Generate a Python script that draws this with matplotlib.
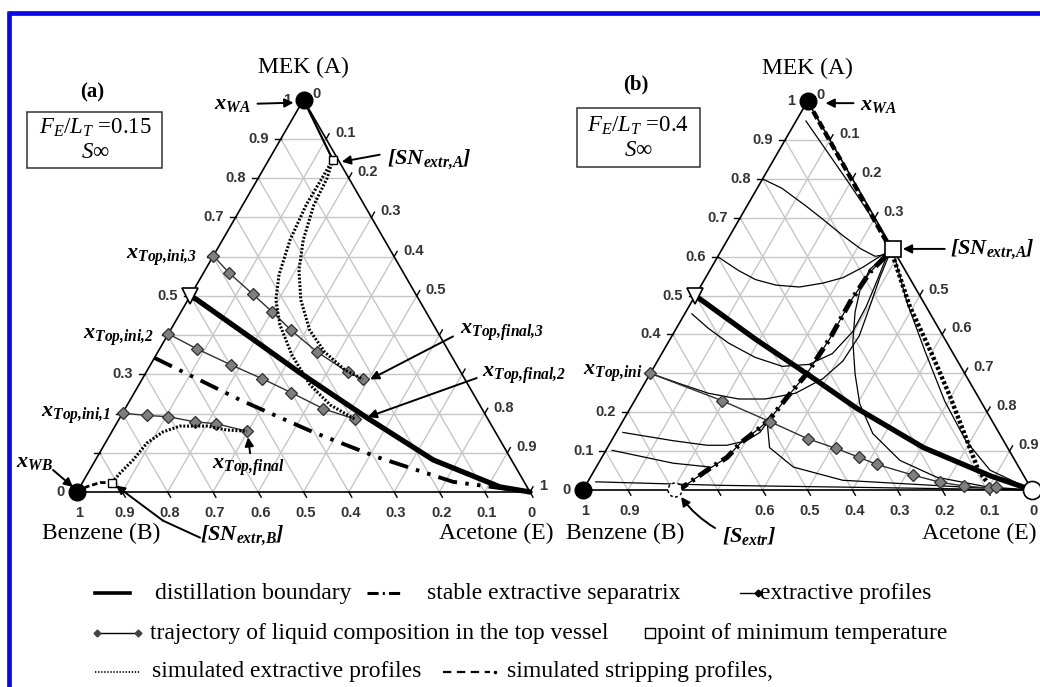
import numpy as np
import matplotlib
matplotlib.use('Agg')
import matplotlib.pyplot as plt
from matplotlib.patches import Rectangle, Circle

plt.rcParams['font.family'] = ['Liberation Serif', 'DejaVu Serif']
plt.rcParams['mathtext.fontset'] = 'custom'
plt.rcParams['mathtext.rm'] = 'Liberation Serif'
plt.rcParams['mathtext.it'] = 'Liberation Serif:italic'
plt.rcParams['mathtext.bf'] = 'Liberation Serif:italic:bold'
plt.rcParams['lines.scale_dashes'] = False

FIG_W, FIG_H = 1040, 687
S3 = np.sqrt(3) / 2

# ---- panel (a): compositions as (MEK, acetone) mole fractions, benzene = rest ----
A_BOUND_MEK = [0.50, 0.49, 0.395, 0.304, 0.189, 0.082, 0.013, 0.0]
A_BOUND_ACE = [0.00, 0.02, 0.184, 0.340, 0.546, 0.745, 0.927, 1.0]
A_SEP_MEK = [0.342, 0.235, 0.153, 0.089, 0.026, 0.0]
A_SEP_ACE = [0.0, 0.242, 0.444, 0.618, 0.817, 1.0]
A_TRAJ3_MEK = [0.602, 0.558, 0.505, 0.460, 0.412, 0.358, 0.305, 0.287]
A_TRAJ3_ACE = [0.0, 0.057, 0.135, 0.200, 0.267, 0.350, 0.446, 0.488]
A_TRAJ2_MEK = [0.403, 0.365, 0.324, 0.289, 0.253, 0.212, 0.186]
A_TRAJ2_ACE = [0.0, 0.082, 0.178, 0.264, 0.347, 0.438, 0.520]
A_TRAJ1_MEK = [0.201, 0.195, 0.192, 0.179, 0.174, 0.155]
A_TRAJ1_ACE = [0.0, 0.057, 0.105, 0.170, 0.220, 0.298]
A_SIM2_MEK = [0.847, 0.801, 0.732, 0.643, 0.554, 0.490, 0.426, 0.349, 0.273, 0.222, 0.186]
A_SIM2_ACE = [0.141, 0.141, 0.140, 0.149, 0.169, 0.194, 0.235, 0.300, 0.378, 0.448, 0.520]
A_SIM3_MEK = [0.847, 0.801, 0.732, 0.643, 0.566, 0.490, 0.413, 0.357, 0.311, 0.287]
A_SIM3_ACE = [0.141, 0.152, 0.157, 0.178, 0.207, 0.249, 0.307, 0.368, 0.436, 0.488]
A_SIM1_MEK = [0.024, 0.048, 0.082, 0.125, 0.153, 0.168, 0.168, 0.158, 0.155]
A_SIM1_ACE = [0.065, 0.071, 0.083, 0.092, 0.113, 0.143, 0.203, 0.252, 0.298]
A_STRIPB_MEK = [0.0, 0.0135, 0.024, 0.024]
A_STRIPB_ACE = [0.0, 0.015, 0.039, 0.065]
A_STRIPA_MEK = [1.0, 0.847]
A_STRIPA_ACE = [0.0, 0.141]
A_SN_A = (0.847, 0.141)
A_SN_B = (0.024, 0.065)

# ---- panel (b) ----
B_BOUND_MEK = [0.5, 0.388, 0.295, 0.211, 0.109, 0.036, 0.0]
B_BOUND_ACE = [0.0, 0.190, 0.356, 0.503, 0.704, 0.890, 1.0]
B_SEP_MEK = [0.0, 0.008, 0.056, 0.084, 0.120, 0.160, 0.183, 0.242, 0.300, 0.389, 0.483, 0.560, 0.620]
B_SEP_ACE = [0.205, 0.219, 0.255, 0.279, 0.290, 0.314, 0.325, 0.336, 0.349, 0.355, 0.353, 0.359, 0.380]
B_SIM_MEK = [0.62, 0.601, 0.473, 0.351, 0.242, 0.140, 0.051, 0.020]
B_SIM_ACE = [0.38, 0.390, 0.491, 0.601, 0.696, 0.781, 0.855, 0.890]
B_STRIP_MEK = [1.0, 0.62]
B_STRIP_ACE = [0.0, 0.375]
B_TRAJ_MEK = [0.300, 0.230, 0.176, 0.132, 0.107, 0.084, 0.066, 0.038, 0.020, 0.010, 0.005, 0.008]
B_TRAJ_ACE = [0.000, 0.194, 0.328, 0.434, 0.510, 0.573, 0.621, 0.717, 0.785, 0.844, 0.902, 0.916]
B_PROFILES = [
    ([0.80, 0.776, 0.730, 0.695, 0.654, 0.621, 0.601, 0.606, 0.62],
     [0.0, 0.055, 0.132, 0.188, 0.252, 0.307, 0.350, 0.374, 0.38]),
    ([0.949, 0.789, 0.62], [0.022, 0.198, 0.38]),
    ([0.60, 0.564, 0.541, 0.527, 0.522, 0.532, 0.546, 0.573, 0.601, 0.62],
     [0.0, 0.065, 0.114, 0.166, 0.221, 0.268, 0.306, 0.337, 0.361, 0.38]),
    ([0.453, 0.416, 0.378, 0.341, 0.318, 0.323, 0.351, 0.407, 0.471, 0.537, 0.601, 0.62],
     [0.016, 0.071, 0.135, 0.213, 0.285, 0.342, 0.380, 0.397, 0.395, 0.386, 0.376, 0.38]),
    ([0.30, 0.272, 0.249, 0.234, 0.234, 0.249, 0.286, 0.332, 0.397, 0.471, 0.546, 0.601, 0.62],
     [0.0, 0.083, 0.154, 0.230, 0.289, 0.349, 0.391, 0.413, 0.417, 0.403, 0.388, 0.380, 0.38]),
    ([0.148, 0.127, 0.115, 0.115, 0.127, 0.148, 0.165], [0.015, 0.136, 0.219, 0.263, 0.301, 0.320, 0.322]),
    ([0.102, 0.069, 0.059], [0.014, 0.166, 0.254]),
    ([0.021, 0.012, 0.007, 0.0], [0.018, 0.30, 0.60, 1.0]),
    ([0.62, 0.567, 0.517, 0.458, 0.382, 0.298, 0.221, 0.145, 0.076, 0.033, 0.008, 0.0],
     [0.38, 0.355, 0.359, 0.377, 0.410, 0.457, 0.506, 0.573, 0.668, 0.771, 0.896, 1.0]),
    ([0.178, 0.109, 0.059, 0.025, 0.008, 0.0], [0.321, 0.361, 0.439, 0.566, 0.836, 1.0]),
    ([0.605, 0.483, 0.356, 0.229, 0.127, 0.051, 0.0], [0.39, 0.480, 0.584, 0.691, 0.789, 0.881, 1.0]),
]
B_SN_A = (0.62, 0.38)
B_S_EXTR = (0.0, 0.205)
B_TOP_INI = (0.30, 0.0)

TICKS = [i / 10 for i in range(11)]
A_LEFT = [0, 0.3, 0.5, 0.7, 0.8, 0.9, 1]
A_RIGHT = [0, 0.1, 0.2, 0.3, 0.4, 0.5, 0.8, 0.9, 1]
A_BOTTOM = TICKS
B_LEFT = [0, 0.1, 0.2, 0.4, 0.5, 0.6, 0.7, 0.8, 0.9, 1]
B_RIGHT = [0, 0.1, 0.2, 0.3, 0.5, 0.6, 0.7, 0.8, 0.9]
B_BOTTOM = [1, 0.9, 0.6, 0.5, 0.4, 0.3, 0.2, 0.1, 0]


def cart(mek, ace):
    mek = np.asarray(mek, float)
    ace = np.asarray(ace, float)
    return ace + mek / 2, mek * S3


fig = plt.figure(figsize=(FIG_W / 100, FIG_H / 100), dpi=100)


def tern_axes(left_px, base_px, w):
    ax = fig.add_axes([0, 0, 1, 1])
    ax.set_xlim(-left_px / w, (FIG_W - left_px) / w)
    ax.set_ylim((base_px - FIG_H) / w, base_px / w)
    ax.axis('off')
    return ax


def at(w, mek, ace, dx=0, dy=0):
    x, y = cart(mek, ace)
    return float(x) + dx / w, float(y) + dy / w


def frame(ax, w, left, right, bottom):
    t = 6 / w
    for v in TICKS[1:-1]:
        for m, a in (([v, v], [0, 1 - v]), ([0, 1 - v], [v, v]), ([0, 1 - v], [1 - v, 0])):
            x, y = cart(m, a)
            ax.plot(x, y, color='#c6c6c6', lw=1, zorder=1)
    x, y = cart([0, 1, 0, 0], [0, 0, 1, 0])
    ax.plot(x, y, color='k', lw=1.2, zorder=2)
    tf = dict(family=['Liberation Sans', 'DejaVu Sans'], fontsize=10.5, color='#333333',
              fontweight='bold')
    for v in TICKS:
        x, y = cart(v, 0)
        ax.plot([x, x - t], [y, y], 'k', lw=1)
        x, y = cart(1 - v, v)
        ax.plot([x, x + 0.5 * t], [y, y + S3 * t], 'k', lw=1)
        x, y = cart(0, 1 - v)
        ax.plot([x, x + 0.5 * t], [y, y - S3 * t], 'k', lw=1)
    for v in left:
        x, y = cart(v, 0)
        ax.text(x - 12 / w, y, '%g' % v, ha='right', va='center', **tf)
    for v in right:
        x, y = cart(1 - v, v)
        ax.text(x + 9 / w, y + 6 / w, '%g' % v, ha='left', va='center', **tf)
    for v in bottom:
        x, y = cart(0, 1 - v)
        ax.text(x + 2 / w, y - 21 / w, '%g' % v, ha='center', va='center', **tf)


def tplot(ax, mek, ace, **kw):
    x, y = cart(mek, ace)
    ax.plot(x, y, **kw)


def arrow(ax, w, p, head, tail, rad=0.0, lw=1.4):
    ax.annotate('', xy=at(w, *p, *head), xytext=at(w, *p, *tail),
                arrowprops=dict(arrowstyle='-|>', color='k', lw=lw, mutation_scale=13,
                                shrinkA=0, shrinkB=0, connectionstyle='arc3,rad=%g' % rad))


def label(ax, w, p, off, txt, ha='left', size=16):
    x, y = at(w, *p, *off)
    ax.text(x, y, txt, ha=ha, va='center', fontsize=size)


DIAM = dict(marker='D', ms=6.5, mfc='#7f7f7f', mec='#303030', mew=0.9)

# ============================ panel (a) ============================
WA = 453.0
axa = tern_axes(77, 492, WA)
frame(axa, WA, A_LEFT, A_RIGHT, A_BOTTOM)
tplot(axa, A_SEP_MEK, A_SEP_ACE, color='k', lw=2.8, dashes=(14, 6, 2.5, 6, 2.5, 6), zorder=3)
tplot(axa, A_BOUND_MEK, A_BOUND_ACE, color='k', lw=3.8, solid_capstyle='round', zorder=4)
for m, a in ((A_TRAJ3_MEK, A_TRAJ3_ACE), (A_TRAJ2_MEK, A_TRAJ2_ACE), (A_TRAJ1_MEK, A_TRAJ1_ACE)):
    tplot(axa, m, a, color='#303030', lw=1, zorder=5, **DIAM)
for m, a in ((A_SIM2_MEK, A_SIM2_ACE), (A_SIM3_MEK, A_SIM3_ACE), (A_SIM1_MEK, A_SIM1_ACE)):
    tplot(axa, m, a, color='k', lw=2.2, dashes=(1.4, 1.3), zorder=6)
tplot(axa, A_STRIPB_MEK, A_STRIPB_ACE, color='k', lw=2.0, dashes=(4, 2), zorder=6)
tplot(axa, A_STRIPA_MEK, A_STRIPA_ACE, color='k', lw=1.6, zorder=6)
tplot(axa, [A_SN_A[0], A_SN_B[0]], [A_SN_A[1], A_SN_B[1]], ls='none', marker='s', ms=6,
      mfc='white', mec='k', mew=1, zorder=7)
tplot(axa, [1, 0], [0, 0], ls='none', marker='o', ms=12, color='k', zorder=7)
tplot(axa, [0.5], [0.0], ls='none', marker='v', ms=11, mfc='white', mec='k', mew=1.2, zorder=7)

label(axa, WA, (1, 0), (-71, -5), r'$\mathbf{x_{WA}}$', ha='center')
arrow(axa, WA, (1, 0), (-10, -3), (-46, -4))
label(axa, WA, A_SN_A, (54, 0), r'$\mathbf{[SN_{extr{,}A}]}$')
arrow(axa, WA, A_SN_A, (9, -2), (47, 5))
label(axa, WA, (A_TRAJ3_MEK[0], A_TRAJ3_ACE[0]), (-16, -1), r'$\mathbf{x_{Top{,}ini{,}3}}$', ha='right')
label(axa, WA, (A_TRAJ2_MEK[0], A_TRAJ2_ACE[0]), (-14, -3), r'$\mathbf{x_{Top{,}ini{,}2}}$', ha='right')
label(axa, WA, (A_TRAJ1_MEK[0], A_TRAJ1_ACE[0]), (-12, -2), r'$\mathbf{x_{Top{,}ini{,}1}}$', ha='right')
label(axa, WA, (0, 0), (-42, 29), r'$\mathbf{x_{WB}}$', ha='center')
arrow(axa, WA, (0, 0), (-4, 5), (-24, 22))
fin1 = (A_TRAJ1_MEK[-1], A_TRAJ1_ACE[-1])
label(axa, WA, fin1, (1, -36), r'$\mathbf{x_{Top{,}final}}$', ha='center')
arrow(axa, WA, fin1, (1, -6), (3, -22))
label(axa, WA, A_SN_B, (88, -53), r'$\mathbf{[SN_{extr{,}B}]}$')
x0, y0 = at(WA, *A_SN_B, 88, -55)
x1, y1 = at(WA, *A_SN_B, 51, -38)
axa.plot([x0, x1], [y0, y1], color='k', lw=1.4)
arrow(axa, WA, A_SN_B, (4, -3), (51, -38))
fin3 = (A_TRAJ3_MEK[-1], A_TRAJ3_ACE[-1])
label(axa, WA, fin3, (97, 47), r'$\mathbf{x_{Top{,}final{,}3}}$')
arrow(axa, WA, fin3, (7, 0), (90, 43))
fin2 = (A_TRAJ2_MEK[-1], A_TRAJ2_ACE[-1])
label(axa, WA, fin2, (127, 44), r'$\mathbf{x_{Top{,}final{,}2}}$')
arrow(axa, WA, fin2, (13, 2), (122, 41))
label(axa, WA, (1, 0), (0, 32), 'MEK (A)', ha='center', size=17)
label(axa, WA, (0, 0), (24, -41), 'Benzene (B)', ha='center', size=17)
label(axa, WA, (0, 1), (-34, -41), 'Acetone (E)', ha='center', size=17)

# ============================ panel (b) ============================
WB = 449.0
axb = tern_axes(583, 490, WB)
frame(axb, WB, B_LEFT, B_RIGHT, B_BOTTOM)
for m, a in B_PROFILES:
    tplot(axb, m, a, color='k', lw=0.9, zorder=3)
tplot(axb, B_SEP_MEK, B_SEP_ACE, color='k', lw=0.9, zorder=3)
tplot(axb, B_SEP_MEK, B_SEP_ACE, color='k', lw=3.6, dashes=(10, 4, 2, 4), zorder=4)
tplot(axb, B_BOUND_MEK, B_BOUND_ACE, color='k', lw=3.8, solid_capstyle='round', zorder=4)
tplot(axb, B_SIM_MEK, B_SIM_ACE, color='k', lw=3.2, dashes=(2.2, 1.6), zorder=5)
tplot(axb, B_STRIP_MEK, B_STRIP_ACE, color='k', lw=3.2, dashes=(6, 2.5), zorder=5)
tplot(axb, B_TRAJ_MEK, B_TRAJ_ACE, color='#303030', lw=1, zorder=5, **DIAM)
tplot(axb, [B_SN_A[0]], [B_SN_A[1]], ls='none', marker='s', ms=11, mfc='white', mec='k', mew=1.2, zorder=7)
tplot(axb, [1, 0], [0, 0], ls='none', marker='o', ms=12, color='k', zorder=7)
tplot(axb, [0], [1], ls='none', marker='o', ms=13, mfc='white', mec='k', mew=1.2, zorder=7)
tplot(axb, [0.5], [0.0], ls='none', marker='v', ms=11, mfc='white', mec='k', mew=1.2, zorder=7)
cx, cy = at(WB, *B_S_EXTR)
axb.add_patch(Circle((cx, cy), 7 / WB, fc='white', ec='k', lw=1.1, ls=(0, (2, 2)), zorder=7))

label(axb, WB, (1, 0), (52, -4), r'$\mathbf{x_{WA}}$')
arrow(axb, WB, (1, 0), (18, -2), (46, -2))
label(axb, WB, B_SN_A, (57, 0), r'$\mathbf{[SN_{extr{,}A}]}$')
arrow(axb, WB, B_SN_A, (10, 0), (52, 0))
label(axb, WB, B_TOP_INI, (-8, 0), r'$\mathbf{x_{Top{,}ini}}$', ha='right')
label(axb, WB, B_S_EXTR, (47, -46), r'$\mathbf{[S_{extr}]}$')
arrow(axb, WB, B_S_EXTR, (6, -7), (40, -38), rad=-0.1)
label(axb, WB, (1, 0), (0, 33), 'MEK (A)', ha='center', size=17)
label(axb, WB, (0, 0), (42, -43), 'Benzene (B)', ha='center', size=17)
label(axb, WB, (0, 1), (4, -43), 'Acetone (E)', ha='right', size=17)

# ===================== overlay: border, boxes, legend =====================
ov = fig.add_axes([0, 0, 1, 1])
ov.set_xlim(0, FIG_W)
ov.set_ylim(FIG_H, 0)
ov.axis('off')
ov.plot([8, FIG_W], [13, 13], color='#0a0ae6', lw=3.4, solid_capstyle='butt')
ov.plot([9, 9], [11, FIG_H], color='#0a0ae6', lw=3.4, solid_capstyle='butt')

ov.text(92, 92, '(a)', fontsize=15, fontweight='bold', ha='center', va='center')
ov.text(636, 84, '(b)', fontsize=15, fontweight='bold', ha='center', va='center')
ov.add_patch(Rectangle((27, 112), 135, 56, fc='none', ec='#333', lw=1.1))
ov.text(95, 128, r'$F_E/L_T$ =0.15', fontsize=16.5, ha='center', va='center')
ov.text(95, 153, r'$S\infty$', fontsize=16.5, ha='center', va='center')
ov.add_patch(Rectangle((577, 108), 123, 59, fc='none', ec='#333', lw=1.1))
ov.text(638, 126, r'$F_E/L_T$ =0.4', fontsize=16.5, ha='center', va='center')
ov.text(638, 151, r'$S\infty$', fontsize=16.5, ha='center', va='center')

LFS = 17
r1, r2, r3 = 593, 633, 672
ov.plot([95, 130], [r1, r1], color='k', lw=2.6)
ov.text(155, r1, 'distillation boundary', fontsize=LFS, va='center')
ov.plot([367, 400], [r1, r1], color='k', lw=2.2, dashes=(8, 3, 1.5, 3))
ov.text(427, r1, 'stable extractive separatrix', fontsize=LFS, va='center')
ov.plot([740, 762], [r1, r1], color='k', lw=1)
ov.plot([758], [r1], marker='D', ms=3.5, color='k')
ov.text(760, r1, 'extractive profiles', fontsize=LFS, va='center')
ov.plot([95, 140], [r2, r2], color='k', lw=1)
ov.plot([97, 138], [r2, r2], ls='none', marker='D', ms=3.5, color='#444')
ov.text(150, r2, 'trajectory of liquid composition in the top vessel', fontsize=LFS, va='center')
ov.plot([650], [r2], marker='s', ms=7, mfc='white', mec='k', mew=1)
ov.text(657, r2, 'point of minimum temperature', fontsize=LFS, va='center')
ov.plot([95, 140], [r3, r3], color='k', lw=1.2, dashes=(1, 1.2))
ov.text(152, r3, 'simulated extractive profiles', fontsize=LFS, va='center')
ov.plot([443, 490], [r3, r3], color='k', lw=1.6, dashes=(6, 4))
ov.plot([495], [r3], marker='.', ms=3, color='k')
ov.text(507, r3, 'simulated stripping profiles,', fontsize=LFS, va='center')

fig.savefig('out.png', dpi=100, facecolor='white')
